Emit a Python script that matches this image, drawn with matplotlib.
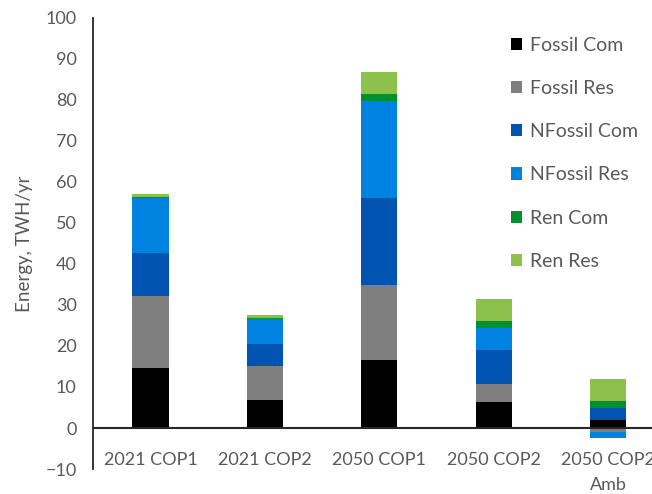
import numpy as np
import matplotlib
matplotlib.use('Agg')
import matplotlib.pyplot as plt
from matplotlib.patches import Patch

plt.rcParams['font.family'] = ['Lato', 'DejaVu Sans']

cases = ['2021 COP1', '2021 COP2', '2050 COP1', '2050 COP2', '2050 COP2\nAmb']
series = ['Fossil Com', 'Fossil Res', 'NFossil Com', 'NFossil Res', 'Ren Com', 'Ren Res']
colors = ['#000000', '#7f7f7f', '#0053b1', '#0083e0', '#00902f', '#8cc14c']

fossil_com = [14.7, 6.9, 16.6, 6.4, 2.0]
fossil_res = [17.6, 8.2, 18.3, 4.3, -1.0]
nfossil_com = [10.5, 5.3, 21.3, 8.3, 3.0]
nfossil_res = [13.2, 6.3, 23.6, 5.3, -1.4]
ren_com = [0.3, 0.2, 1.7, 1.8, 1.7]
ren_res = [0.7, 0.7, 5.3, 5.3, 5.2]
values = [fossil_com, fossil_res, nfossil_com, nfossil_res, ren_com, ren_res]

txt = '#595959'
fig = plt.figure(figsize=(6.52, 4.94), dpi=100)
ax = fig.add_axes([0.1431, 0.0506, 0.8773, 0.913])

x = np.arange(len(cases))
pos = np.zeros(len(cases))
neg = np.zeros(len(cases))
for vals, c, name in zip(values, colors, series):
    v = np.array(vals)
    bottom = np.where(v >= 0, pos, neg)
    ax.bar(x, v, 0.315, bottom=bottom, color=c, label=name, zorder=2)
    pos = pos + np.clip(v, 0, None)
    neg = neg + np.clip(v, None, 0)

ax.set_xlim(-0.5, 4.5)
ax.set_ylim(-10, 100)
ax.set_yticks(np.arange(-10, 101, 10))
ax.axhline(0, color='#262626', lw=1.5, zorder=3)
for s in ['top', 'right', 'bottom']:
    ax.spines[s].set_visible(False)
ax.spines['left'].set_color('#262626')
ax.spines['left'].set_linewidth(1.3)
ax.tick_params(axis='y', length=0, pad=12, labelsize=13, labelcolor=txt)
ax.set_xticks(x)
ax.set_xticklabels(cases, fontsize=13, color=txt, linespacing=1.75)
ax.tick_params(axis='x', length=0, pad=-12.5)
ax.set_ylabel('Energy, TWH/yr', fontsize=13.5, color=txt, labelpad=9)

handles = [Patch(facecolor=c, label=n) for c, n in zip(colors, series)]
fig.legend(handles=handles, loc='upper left', bbox_to_anchor=(0.783, 0.926),
           frameon=False, fontsize=14, labelcolor=txt, borderpad=0,
           handlelength=0.6, handleheight=0.6, handletextpad=0.42,
           labelspacing=1.35, borderaxespad=0)

fig.savefig('out.png', dpi=100)
